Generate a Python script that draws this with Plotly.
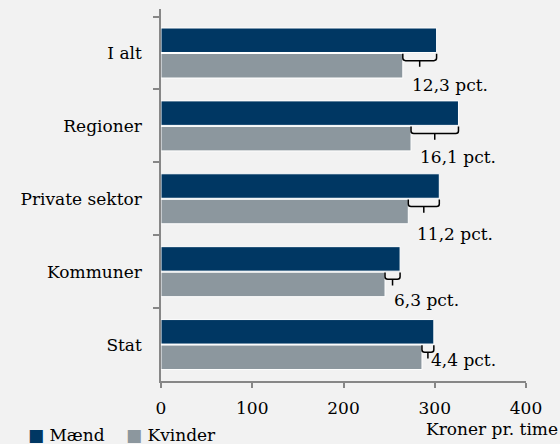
import plotly.graph_objects as go

categories = ["I alt", "Regioner", "Private sektor", "Kommuner", "Stat"]
maend = [302, 326, 305, 262, 299]
kvinder = [265, 274, 271, 245.5, 286]
gap_labels = ["12,3 pct.", "16,1 pct.", "11,2 pct.", "6,3 pct.", "4,4 pct."]
x_ticks = [0, 100, 200, 300, 400]
series_names = ["Mænd", "Kvinder"]

FONT = "DejaVu Serif"
FS = 17
C_M = "#003763"
C_K = "#8C979E"

fig = go.Figure()
fig.add_trace(go.Bar(y=categories, x=maend, name=series_names[0], orientation="h",
                     marker=dict(color=C_M, line=dict(color="#FFFFFF", width=1))))
fig.add_trace(go.Bar(y=categories, x=kvinder, name=series_names[1], orientation="h",
                     marker=dict(color=C_K, line=dict(color="#FFFFFF", width=1))))

label_dy = [-32, -31, -35, -28, -15]
for i, (m, k, lab) in enumerate(zip(maend, kvinder, gap_labels)):
    x1, x2 = k, m
    xm = (x1 + x2) / 2
    y0 = i + 0.01
    yh = i + 0.105
    ym = i + 0.19
    dx = 3.0
    dy = 0.035
    path = (f"M {x1},{y0} L {x1},{yh-dy} Q {x1},{yh} {x1+dx},{yh} "
            f"L {x2-dx},{yh} Q {x2},{yh} {x2},{yh-dy} L {x2},{y0} "
            f"M {xm},{yh} L {xm},{ym}")
    fig.add_shape(type="path", path=path, xref="x", yref="y",
                  line=dict(color="black", width=1.5))
    fig.add_annotation(x=k, y=i, xref="x", yref="y", text=lab, showarrow=False,
                       xanchor="left", yanchor="middle", xshift=7, yshift=label_dy[i],
                       font=dict(family=FONT, size=FS, color="black"))

fig.add_annotation(x=1.093, y=-0.129, xref="paper", yref="paper", text="Kroner pr. time",
                   showarrow=False, xanchor="right", yanchor="middle",
                   font=dict(family=FONT, size=FS, color="black"))

# legend drawn as compact text entries (Excel-style)
for name, col, xp in zip(series_names, [C_M, C_K], [-0.370, -0.101]):
    fig.add_annotation(x=xp, y=-0.146, xref="paper", yref="paper",
                       text=f"<span style='color:{col}'>■</span> {name}",
                       showarrow=False, xanchor="left", yanchor="middle",
                       font=dict(family=FONT, size=FS, color="black"))

fig.update_layout(
    width=560, height=444,
    margin=dict(l=161, r=34, t=9, b=63, autoexpand=False),
    paper_bgcolor="#F2F2F2", plot_bgcolor="#F2F2F2",
    barmode="group", bargap=0.3, bargroupgap=0.04,
    font=dict(family=FONT, size=FS, color="black"),
    showlegend=False,
    xaxis=dict(range=[0, 400], tickvals=x_ticks, showgrid=False, zeroline=False,
               showline=True, linecolor="#878787", linewidth=1.5,
               ticks="outside", ticklen=5, tickcolor="#878787", tickwidth=1.5,
               ticklabelstandoff=6,
               tickfont=dict(family=FONT, size=FS)),
    yaxis=dict(type="category", autorange="reversed", showgrid=False,
               showline=True, linecolor="#878787", linewidth=1.5,
               ticks="outside", ticklen=6, tickcolor="#878787", tickwidth=1.5,
               tickson="boundaries", ticklabelstandoff=14,
               tickfont=dict(family=FONT, size=FS)),
)

fig.write_html("out.html", config={"displayModeBar": False},
               post_script="document.body.style.margin='0';document.body.style.background='#F2F2F2';")
